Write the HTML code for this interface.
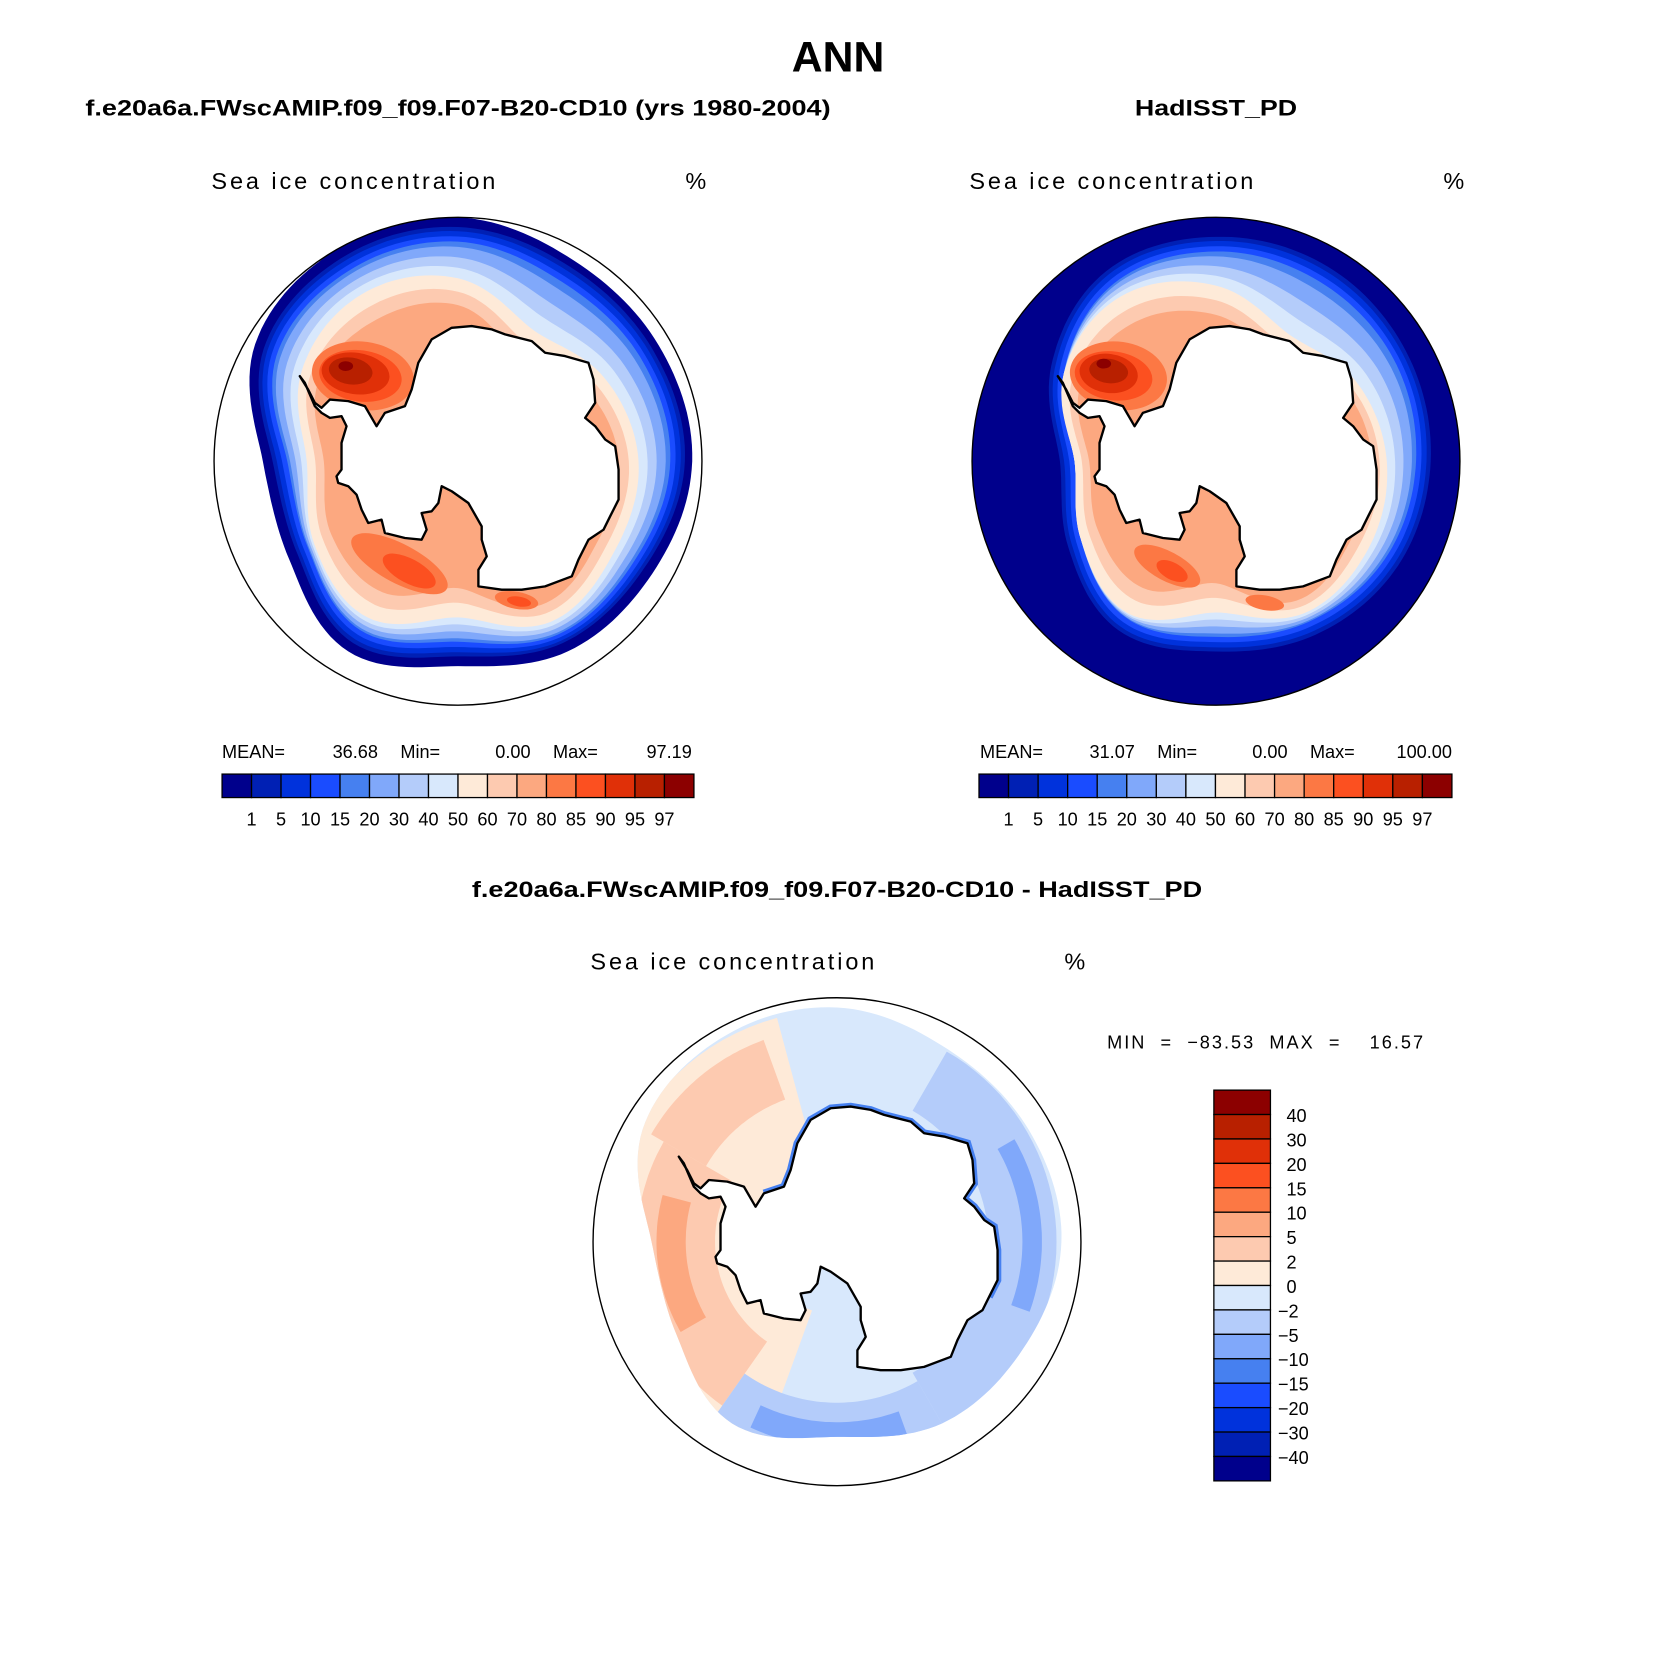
<!DOCTYPE html>
<html><head><meta charset="utf-8">
<style>
html,body{margin:0;padding:0;background:#fff;}
svg{display:block;}
.t{font-family:"Liberation Sans",sans-serif;white-space:pre;}
</style></head>
<body>
<svg id="fig" width="1674" height="1672" viewBox="0 0 1568 1566" preserveAspectRatio="none" xmlns="http://www.w3.org/2000/svg">
<text class="t" x="785" y="67" text-anchor="middle" font-size="40" font-weight="bold">ANN</text>
<text class="t" x="80" y="108" font-size="21" font-weight="bold" textLength="698" lengthAdjust="spacingAndGlyphs">f.e20a6a.FWscAMIP.f09_f09.F07-B20-CD10 (yrs 1980-2004)</text>
<text class="t" x="1139" y="108" font-size="21" font-weight="bold" text-anchor="middle" textLength="152" lengthAdjust="spacingAndGlyphs">HadISST_PD</text>
<text class="t" x="442" y="840" font-size="21" font-weight="bold" textLength="684" lengthAdjust="spacingAndGlyphs">f.e20a6a.FWscAMIP.f09_f09.F07-B20-CD10 - HadISST_PD</text>
<g id="maps"></g>
</svg>
<script>
// ---- data arrays ----
const levels = [1,5,10,15,20,30,40,50,60,70,80,85,90,95,97];
const colors = ["#00008C","#0020B4","#0032DC","#1A4CFF","#4680F0","#80A8FA","#B4CCFA","#D8E8FC","#FEEAD8","#FDCAB0","#FCA880","#FC7844","#FC5020","#E03008","#B82000","#8C0000"];
const diffLevels = [40,30,20,15,10,5,2,0,-2,-5,-10,-15,-20,-30,-40];
const angles = [0,30,60,90,120,150,180,210,240,270,300,330];
// left model
const modelEdge = [1.0,0.95,0.95,0.96,0.92,0.9,0.84,0.9,0.8,0.8,0.96,1.0];
const model1  = [0.96,0.92,0.92,0.93,0.88,0.86,0.8,0.86,0.76,0.76,0.92,0.96];
const model15 = [0.9,0.85,0.86,0.87,0.83,0.82,0.74,0.8,0.71,0.7,0.86,0.9];
const model50 = [0.75,0.62,0.69,0.74,0.74,0.76,0.64,0.74,0.68,0.62,0.74,0.79];
const model70 = [0.64,0.5,0.6,0.66,0.66,0.68,0.52,0.62,0.6,0.55,0.66,0.67];
// observed
const obsEdge = [1,1,1,1,1,1,1,1,1,1,1,1];
const obs1  = [0.92,0.92,0.9,0.88,0.86,0.82,0.78,0.8,0.7,0.64,0.78,0.9];
const obs15 = [0.86,0.85,0.84,0.82,0.8,0.76,0.72,0.74,0.64,0.58,0.72,0.84];
const obs50 = [0.72,0.6,0.66,0.7,0.72,0.72,0.62,0.72,0.64,0.58,0.72,0.78];
const obs70 = [0.6,0.5,0.6,0.64,0.64,0.66,0.5,0.6,0.56,0.52,0.64,0.66];
// hot-spot blobs: [cx, cy, rx, ry, rot, value]
const modelBlobs = [[-0.39,-0.35,0.21,0.14,8,80],[-0.4,-0.35,0.17,0.105,8,85],[-0.42,-0.36,0.14,0.085,8,90],[-0.44,-0.37,0.09,0.055,8,95],[-0.46,-0.39,0.03,0.02,0,97],
  [-0.24,0.42,0.22,0.08,28,80],[-0.2,0.45,0.12,0.05,28,85],[0.24,0.57,0.09,0.035,10,80],[0.25,0.575,0.05,0.02,10,85]];
const obsBlobs = [[-0.4,-0.35,0.2,0.14,8,80],[-0.42,-0.35,0.16,0.1,8,85],[-0.44,-0.36,0.12,0.08,8,90],[-0.44,-0.37,0.08,0.05,8,95],[-0.46,-0.4,0.03,0.02,0,97],
  [-0.2,0.43,0.15,0.06,28,80],[-0.18,0.45,0.07,0.035,28,85],[0.2,0.58,0.08,0.03,10,80]];
// diff regions: [angleFrom, angleTo, rFrom, rTo, value]
const diffRegions = [[200,345,0.3,0.95,1],[215,300,0.5,0.82,3],[240,285,0.62,0.74,7],[300,340,0.62,0.88,3],
  [30,150,0.62,0.9,-3],[150,215,0.66,0.9,-3],[160,205,0.74,0.84,-7],[60,110,0.76,0.84,-7]];
// coastline (reference-image trace coords)
const coast = [[285,500],[310,540],[330,580],[350,595],[375,570],[430,575],[480,590],[515,650],[540,610],[600,590],[620,540],[640,460],[680,390],[740,355],[800,350],[860,360],[900,375],[980,395],[1020,430],[1080,440],[1150,460],[1165,510],[1170,580],[1140,625],[1170,650],[1200,690],[1230,710],[1240,780],[1240,870],[1215,920],[1195,960],[1150,990],[1120,1050],[1100,1100],[1020,1130],[950,1140],[890,1140],[820,1130],[820,1080],[845,1040],[830,990],[830,950],[790,880],[740,845],[710,830],[700,880],[680,905],[650,910],[665,960],[650,990],[600,985],[540,970],[530,930],[490,940],[470,900],[455,855],[430,830],[400,820],[395,800],[410,780],[410,700],[425,650],[410,620],[375,625],[350,610],[330,590],[300,520]];

const NS="http://www.w3.org/2000/svg";
const R=228.5;
function el(tag,attrs,parent){const e=document.createElementNS(NS,tag);for(const k in attrs)e.setAttribute(k,attrs[k]);(parent||document.getElementById('maps')).appendChild(e);return e;}
function interp(arr,a){const n=arr.length,step=360/n;const f=((a%360)+360)%360/step;const i=Math.floor(f),t=f-i;
 const p0=arr[(i-1+n)%n],p1=arr[i%n],p2=arr[(i+1)%n],p3=arr[(i+2)%n];
 return 0.5*((2*p1)+(-p0+p2)*t+(2*p0-5*p1+4*p2-p3)*t*t+(-p0+3*p1-3*p2+p3)*t*t*t);}
function curve(cx,cy,rfun){let d="";for(let k=0;k<=180;k++){const a=k*2;const r=Math.min(1,rfun(a))*R;const rad=a*Math.PI/180;
 d+=(k?"L":"M")+(cx+r*Math.sin(rad)).toFixed(1)+","+(cy-r*Math.cos(rad)).toFixed(1);}return d+"Z";}
function colorIdx(v,lv){let i=0;while(i<lv.length&&v>=lv[i])i++;return i;}
function radiusAt(a,v,anch,anchV){
 const rs=anch.map(ar=>interp(ar,a));
 if(v<=anchV[0])return rs[0];
 for(let i=1;i<anchV.length;i++){if(v<=anchV[i]){const t=(v-anchV[i-1])/(anchV[i]-anchV[i-1]);return rs[i-1]+(rs[i]-rs[i-1])*t;}}
 return rs[rs.length-1];}
function coastPts(cx,cy){return coast.map(p=>[cx+(p[0]-759)/731*R,cy+(p[1]-755)/731*R]);}
function coastPath(cx,cy){return coastPts(cx,cy).map((p,i)=>(i?"L":"M")+p[0].toFixed(1)+","+p[1].toFixed(1)).join("")+"Z";}

function drawMap(name,cx,cy,edge,anch,blobs){
 const g=el('g',{});
 
 
 const cp=el('clipPath',{id:'clip-'+name},g);el('circle',{cx:cx,cy:cy,r:R},cp);
 const inner=el('g',{'clip-path':'url(#clip-'+name+')'},g);
 const base=el('path',{d:curve(cx,cy,a=>interp(edge,a)),fill:colors[0]},inner);
 
 
 const anchV=[1,15,50,70];
 levels.forEach((lv,i)=>{ if(lv>70)return;
  const p=el('path',{d:curve(cx,cy,a=>radiusAt(a,lv,anch,anchV)),fill:colors[i+1]},inner);
  
  
 });
 blobs.forEach(b=>{const ci=colorIdx(b[5],levels);
  const e=el('ellipse',{cx:cx+b[0]*R,cy:cy+b[1]*R,rx:b[2]*R,ry:b[3]*R,transform:`rotate(${b[4]} ${cx+b[0]*R} ${cy+b[1]*R})`,fill:colors[ci]},inner);
  
  
 });
 const c=el('path',{d:coastPath(cx,cy),fill:'#fff',stroke:'#000','stroke-width':2.2,'stroke-linejoin':'round'},g);
 
 
 const o=el('circle',{cx:cx,cy:cy,r:R,fill:'none',stroke:'#000','stroke-width':1.3},g);
 
 
}
function txt(s,x,y,size,anchor,name,len){const a={x:x,y:y,'font-size':size,'text-anchor':anchor||'start','class':'t'};
 if(len){a.textLength=len;a.lengthAdjust='spacing';}
 const t=el('text',a);t.textContent=s;
 
 
 return t;}
function hbar(x0,y0,w,h,name){const g=el('g',{});
 
 
 const bw=w/colors.length;
 colors.forEach((c,i)=>{const r=el('rect',{x:x0+i*bw,y:y0,width:bw,height:h,fill:c,stroke:'#000','stroke-width':1.2},g);
  
  });
 levels.forEach((lv,i)=>{const t=el('text',{x:x0+(i+1)*bw,y:y0+h+26,'font-size':17,'text-anchor':'middle','class':'t'},g);t.textContent=lv;
  
  });
}
// left panel
txt("Sea ice concentration",198,177,22,'start','left-map-title',266);
txt("%",642,177,22,'start','left-units');
drawMap('model-map',429,432,modelEdge,[model1,model15,model50,model70],modelBlobs);
txt("MEAN=",208,710,17,'start','left-mean-label');txt("36.68",354,710,17,'end','left-mean-value');
txt("Min=",375,710,17,'start','left-min-label');txt("0.00",497,710,17,'end','left-min-value');
txt("Max=",518,710,17,'start','left-max-label');txt("97.19",648,710,17,'end','left-max-value');
hbar(208,725,442,22,'left-colorbar');
// right panel
txt("Sea ice concentration",908,177,22,'start','right-map-title',266);
txt("%",1352,177,22,'start','right-units');
drawMap('obs-map',1139,432,obsEdge,[obs1,obs15,obs50,obs70],obsBlobs);
txt("MEAN=",918,710,17,'start','right-mean-label');txt("31.07",1063,710,17,'end','right-mean-value');
txt("Min=",1084,710,17,'start','right-min-label');txt("0.00",1206,710,17,'end','right-min-value');
txt("Max=",1227,710,17,'start','right-max-label');txt("100.00",1360,710,17,'end','right-max-value');
hbar(917,725,443,22,'right-colorbar');
// diff panel
txt("Sea ice concentration",553,908,22,'start','diff-map-title',266);
txt("%",997,908,22,'start','diff-units');
txt("MIN  =  \u221283.53  MAX  =    16.57",1037,982,17,'start','diff-minmax',296);
(function(){
 const cx=784,cy=1163;const g=el('g',{});
 
 
 const cp=el('clipPath',{id:'clip-diff'},g);el('circle',{cx:cx,cy:cy,r:R},cp);
 const inner=el('g',{'clip-path':'url(#clip-diff)'},g);
 const ext=a=>interp(modelEdge,a)-0.04;
 const base=el('path',{d:curve(cx,cy,ext),fill:colors[7]},inner);
 
 
 const clipE=el('clipPath',{id:'clip-diff-ext'},g);el('path',{d:curve(cx,cy,ext)},clipE);
 const ig=el('g',{'clip-path':'url(#clip-diff-ext)'},inner);
 diffRegions.forEach(rg=>{
  const ci=colorIdx(-rg[4],diffLevels.map(v=>-v));
  let d="";const n=40;
  for(let k=0;k<=n;k++){const a=(rg[0]+(rg[1]-rg[0])*k/n)*Math.PI/180;d+=(k?"L":"M")+(cx+rg[3]*R*Math.sin(a)).toFixed(1)+","+(cy-rg[3]*R*Math.cos(a)).toFixed(1);}
  for(let k=n;k>=0;k--){const a=(rg[0]+(rg[1]-rg[0])*k/n)*Math.PI/180;d+="L"+(cx+rg[2]*R*Math.sin(a)).toFixed(1)+","+(cy-rg[2]*R*Math.cos(a)).toFixed(1);}
  const p=el('path',{d:d+"Z",fill:colors[15-ci]},ig);
  
  
 });
 // partial negative rim along northern coast (Weddell side)
 const pts=coastPts(cx,cy).slice(8,30);
 const rim=el('path',{d:pts.map((p,i)=>(i?"L":"M")+p[0].toFixed(1)+","+p[1].toFixed(1)).join(""),fill:'none',stroke:'#4680F0','stroke-width':7},inner);
 
 
 const c=el('path',{d:coastPath(cx,cy),fill:'#fff',stroke:'#000','stroke-width':2.2,'stroke-linejoin':'round'},g);
 
 
 const o=el('circle',{cx:cx,cy:cy,r:R,fill:'none',stroke:'#000','stroke-width':1.3},g);
 
 
 // vertical colorbar
 const vb=el('g',{});
 
 
 const x0=1137,y0=1021,w=53,h=366,bh=h/16;
 for(let i=0;i<16;i++){const r=el('rect',{x:x0,y:y0+i*bh,width:w,height:bh,fill:colors[15-i],stroke:'#000','stroke-width':1.2},vb);
  
  }
 diffLevels.forEach((v,i)=>{const t=el('text',{x:v<0?1197:1205,y:y0+(i+1)*bh+7,'font-size':17,'class':'t'},vb);
  t.textContent=v<0?"\u2212"+(-v):String(v);
  
  });
})();
</script>
</body></html>
